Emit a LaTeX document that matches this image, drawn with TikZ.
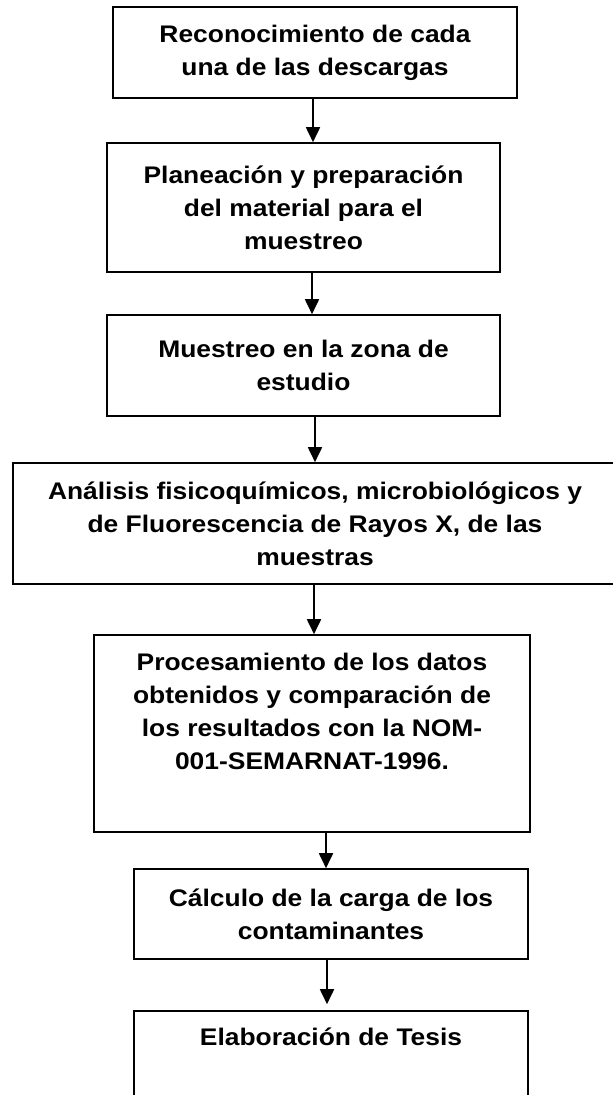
\documentclass[tikz,border=0pt]{standalone}
\usepackage{fontspec}
\setmainfont{Liberation Sans}[FakeStretch=1.1]
\usetikzlibrary{arrows.meta, positioning}

\begin{document}
\begin{tikzpicture}[
		x=1pt, y=-1pt,
		% Define styles for the steps and the arrows
		step_box/.style={
			rectangle,
			draw,
			line width=1.6pt,
			inner sep=4pt,
			align=center,
			font=\fontsize{24}{33}\selectfont\bfseries
		},
		flow_arrow/.style={
			-{Triangle[length=15pt, width=14pt]},
			line width=1.8pt
		},
		]
		\useasboundingbox (0,0) rectangle (613,1095);
		\clip (0,0) rectangle (613,1095);
		
		% ----- Nodes -----
		\node[step_box, minimum width=404pt, minimum height=91pt] (recon) at (315,52.5) {Reconocimiento de cada\\una de las descargas};
		\node[step_box, minimum width=393pt, minimum height=129pt] (plan) at (303.5,207.5) {Planeación y preparación\\del material para el\\muestreo};
		\node[step_box, minimum width=393pt, minimum height=101pt] (muestreo) at (303.5,365.5) {Muestreo en la zona de\\estudio};
		\node[step_box, minimum width=604pt, minimum height=121pt] (analisis) at (315,523.5) {Análisis fisicoquímicos, microbiológicos y\\de Fluorescencia de Rayos X, de las\\muestras};
		\node[step_box, minimum width=436pt, minimum height=197pt] (proceso) at (312,733.5) {Procesamiento de los datos\\obtenidos y comparación de\\los resultados con la NOM-\\001-SEMARNAT-1996.\\[11pt]\mbox{}};
		\node[step_box, minimum width=394pt, minimum height=90pt] (calculo) at (331,914) {Cálculo de la carga de los\\contaminantes};
		\node[step_box, minimum width=394pt, minimum height=130pt] (tesis) at (331,1076) {Elaboración de Tesis\\[45pt]\mbox{}};
		
		% ----- Arrows -----
		\draw[flow_arrow] ([xshift=-2pt]recon.south) -- ([xshift=-2pt]recon.south |- plan.north);
		\draw[flow_arrow] ([xshift=8.5pt]plan.south) -- ([xshift=8.5pt]plan.south |- muestreo.north);
		\draw[flow_arrow] ([xshift=11.5pt]muestreo.south) -- ([xshift=11.5pt]muestreo.south |- analisis.north);
		\draw[flow_arrow] ([xshift=-1pt]analisis.south) -- ([xshift=-1pt]analisis.south |- proceso.north);
		\draw[flow_arrow] ([xshift=14pt]proceso.south) -- ([xshift=14pt]proceso.south |- calculo.north);
		\draw[flow_arrow, shorten >=6pt] ([xshift=-4pt]calculo.south) -- ([xshift=-4pt]calculo.south |- tesis.north);
		
	\end{tikzpicture}
\end{document}
